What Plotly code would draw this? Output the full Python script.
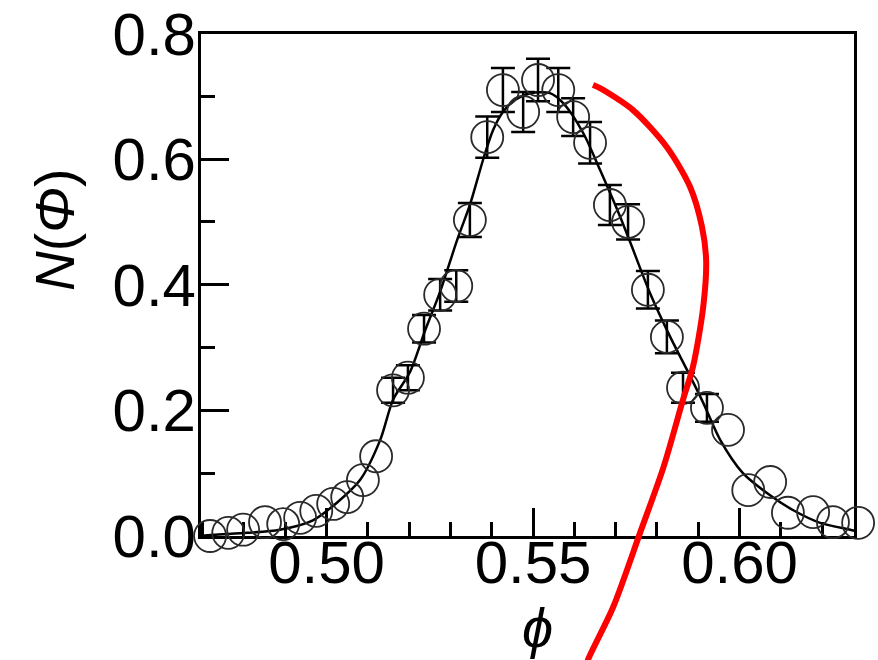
import plotly.graph_objects as go

# ---------------- data ----------------
phi_pts = [0.4718, 0.4762, 0.4798, 0.4851, 0.4895, 0.4936, 0.4975, 0.5016, 0.5050,
           0.5088, 0.5120, 0.5161, 0.5197, 0.5236, 0.5275, 0.5314, 0.5347, 0.5389,
           0.5427, 0.5476, 0.5512, 0.5561, 0.5597, 0.5638, 0.5686, 0.5730, 0.5778,
           0.5824, 0.5863, 0.5921, 0.5972, 0.6021, 0.6074, 0.6117, 0.6178, 0.6226,
           0.6287]
N_pts = [0.000, 0.005, 0.010, 0.022, 0.019, 0.029, 0.040, 0.051, 0.062,
         0.089, 0.127, 0.232, 0.252, 0.330, 0.384, 0.398, 0.503, 0.635,
         0.710, 0.675, 0.726, 0.710, 0.667, 0.626, 0.527, 0.500, 0.392,
         0.317, 0.236, 0.204, 0.169, 0.073, 0.086, 0.037, 0.038, 0.022,
         0.021]
# None = no visible error bar
N_err = [None, None, None, None, None, None, None, None, None,
         None, None, 0.020, 0.020, 0.022, 0.025, 0.025, 0.027, 0.033,
         0.035, 0.032, 0.034, 0.035, 0.030, 0.033, 0.032, 0.028, 0.030,
         0.026, 0.024, 0.022, None, None, None, None, None, None,
         None]

fit_phi = [0.4694, 0.4725, 0.4808, 0.4887, 0.4967, 0.5025, 0.5081, 0.5130, 0.5161,
           0.5202, 0.5239, 0.5275, 0.5316, 0.5347, 0.5379, 0.5403, 0.5427, 0.5456,
           0.5493, 0.5541, 0.5573, 0.5621, 0.5662, 0.5711, 0.5735, 0.5783, 0.5832,
           0.5873, 0.5912, 0.5953, 0.6008, 0.6067, 0.6130, 0.6195, 0.6268, 0.6280]
fit_N = [0.000, 0.002, 0.005, 0.010, 0.025, 0.053, 0.089, 0.153, 0.217,
         0.261, 0.328, 0.389, 0.471, 0.527, 0.599, 0.646, 0.675, 0.694,
         0.705, 0.705, 0.689, 0.642, 0.583, 0.508, 0.468, 0.387, 0.317,
         0.264, 0.212, 0.153, 0.100, 0.068, 0.041, 0.021, 0.010, 0.008]

red_phi = [0.5645, 0.5662, 0.5742, 0.5824, 0.5880, 0.5909, 0.5919, 0.5912, 0.5887,
           0.5863, 0.5816, 0.5759, 0.5694, 0.5633, 0.5628]
red_N = [0.718, 0.713, 0.678, 0.619, 0.556, 0.492, 0.439, 0.365, 0.269,
         0.217, 0.110, 0.005, -0.113, -0.197, -0.210]

x_ticks = [0.50, 0.55, 0.60]
y_ticks = [0.0, 0.2, 0.4, 0.6, 0.8]

# ---------------- layout geometry ----------------
W, H = 878, 660
x_range = [0.4696, 0.6277]
y_range = [0.0, 0.8]
px_left, px_right = 201, 854
px_top, px_bottom = 33.5, 536
xdom = [px_left / W, px_right / W]
ydom = [(H - px_bottom) / H, (H - px_top) / H]

# overlay axes spanning the whole figure with the same scale (marks not clipped)
sx = (x_range[1] - x_range[0]) / (xdom[1] - xdom[0])
sy = (y_range[1] - y_range[0]) / (ydom[1] - ydom[0])
x2_range = [x_range[0] - xdom[0] * sx, x_range[1] + (1 - xdom[1]) * sx]
y2_range = [y_range[0] - ydom[0] * sy, y_range[1] + (1 - ydom[1]) * sy]

# points that carry an error bar
eb_idx = [i for i, e in enumerate(N_err) if e is not None]
eb_phi = [phi_pts[i] for i in eb_idx]
eb_N = [N_pts[i] for i in eb_idx]
eb_err = [N_err[i] for i in eb_idx]

FONT = "Liberation Sans, Arial, sans-serif"

fig = go.Figure()
fig.add_trace(go.Scatter(x=fit_phi, y=fit_N, mode="lines",
                         line=dict(color="black", width=2.5, shape="spline",
                                   smoothing=0.8),
                         showlegend=False))
fig.add_trace(go.Scatter(
    x=eb_phi, y=eb_N, mode="markers", xaxis="x2", yaxis="y2",
    cliponaxis=False, showlegend=False,
    marker=dict(size=1, opacity=0),
    error_y=dict(type="data", array=eb_err, visible=True, color="black",
                 thickness=2.5, width=12)))
fig.add_trace(go.Scatter(
    x=phi_pts, y=N_pts, mode="markers", xaxis="x2", yaxis="y2",
    cliponaxis=False, showlegend=False,
    marker=dict(symbol="circle-open", size=32, color="#2a2a2a",
                line=dict(width=1.8, color="#2a2a2a"))))
fig.add_trace(go.Scatter(x=red_phi, y=red_N, mode="lines", xaxis="x2", yaxis="y2",
                         line=dict(color="#ff0000", width=6, shape="spline",
                                   smoothing=0.8),
                         showlegend=False))

axis_common = dict(showline=True, mirror=True, linewidth=3, linecolor="black",
                   ticks="inside", ticklen=28, tickwidth=3, tickcolor="black",
                   showgrid=False, zeroline=False, automargin=False,
                   tickfont=dict(family=FONT, size=60, color="black"))

fig.update_layout(
    width=W, height=H, margin=dict(l=0, r=0, t=0, b=0, pad=0, autoexpand=False),
    paper_bgcolor="white", plot_bgcolor="rgba(0,0,0,0)",
    xaxis=dict(domain=xdom, range=x_range, tickvals=x_ticks,
               ticktext=[f"{v:.2f}" for v in x_ticks], ticklabelstandoff=-28,
               minor=dict(ticks="inside", ticklen=14, tickwidth=3,
                          tickcolor="black", dtick=0.01, tick0=0.5),
               **axis_common),
    yaxis=dict(domain=ydom, range=y_range, tickvals=y_ticks,
               ticktext=[f"{v:.1f}" for v in y_ticks], ticklabelstandoff=-10,
               minor=dict(ticks="inside", ticklen=14, tickwidth=3,
                          tickcolor="black", dtick=0.1, tick0=0),
               **axis_common),
    xaxis2=dict(domain=[0, 1], range=x2_range, visible=False, anchor="y2",
                automargin=False),
    yaxis2=dict(domain=[0, 1], range=y2_range, visible=False, anchor="x2",
                automargin=False),
    annotations=[
        dict(text="<i>N</i>(<i>Φ</i>)", xref="paper", yref="paper",
             x=55 / W, y=1 - 230 / H, showarrow=False, textangle=-90,
             font=dict(family=FONT, size=55, color="black"),
             xanchor="center", yanchor="middle"),
        dict(text="<i>ϕ</i>", xref="paper", yref="paper",
             x=537 / W, y=1 - 627 / H, showarrow=False,
             font=dict(family=FONT, size=56, color="black"),
             xanchor="center", yanchor="middle"),
    ],
)

fig.write_html("out.html")
